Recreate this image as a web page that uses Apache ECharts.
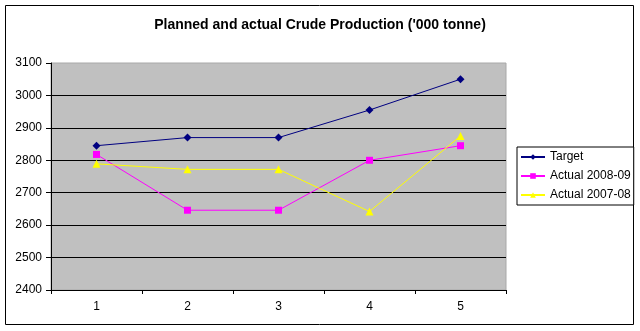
<!DOCTYPE html>
<html>
<head>
<meta charset="utf-8">
<script src="https://cdn.jsdelivr.net/npm/echarts@6/dist/echarts.min.js"></script>
<style>
html,body{margin:0;padding:0;background:#fff;}
#c{width:640px;height:331px;}
</style>
</head>
<body>
<div id="c"></div>
<script>
var categories = ['1', '2', '3', '4', '5'];
var target = [2845, 2870, 2870, 2955, 3050];
var actual0809 = [2818, 2646, 2646, 2800, 2845];
var actual0708 = [2789, 2772, 2772, 2642, 2875];
var seriesNames = ['Target', 'Actual 2008-09', 'Actual 2007-08'];
var yMin = 2400, yMax = 3100, yStep = 100;

var FONT = '"Liberation Sans", Arial, sans-serif';
var chart = echarts.init(document.getElementById('c'), null, {renderer: 'canvas'});

var gridColors = [];
for (var v = yMin; v <= yMax; v += yStep) gridColors.push(v === yMax ? 'rgba(0,0,0,0)' : '#000000');

chart.setOption({
  animation: false,
  backgroundColor: '#ffffff',
  title: {
    text: "Planned and actual Crude Production ('000 tonne)",
    left: 'center',
    top: 13,
    textStyle: {fontFamily: FONT, fontSize: 14, fontWeight: 'bold', color: '#000'}
  },
  graphic: [{
    type: 'rect',
    shape: {x: 5.5, y: 5.5, width: 628, height: 319},
    style: {fill: 'none', stroke: '#000', lineWidth: 1},
    silent: true,
    z: -1
  }],
  legend: {
    orient: 'vertical',
    left: 517,
    top: 147,
    padding: [4, 3, 4, 3],
    itemGap: 7,
    itemWidth: 24,
    itemHeight: 7,
    borderColor: '#000',
    borderWidth: 1,
    backgroundColor: '#fff',
    textStyle: {fontFamily: FONT, fontSize: 12, color: '#000'},
    data: seriesNames
  },
  grid: {
    left: 51, right: 134, top: 63, bottom: 41,
    show: true, backgroundColor: '#C0C0C0', borderWidth: 1, borderColor: '#A8A8A8'
  },
  xAxis: {
    type: 'category',
    data: categories,
    boundaryGap: true,
    axisLine: {lineStyle: {color: '#000', width: 1}},
    axisTick: {show: true, length: 4, lineStyle: {color: '#000'}},
    axisLabel: {fontFamily: FONT, fontSize: 12, color: '#000', margin: 11},
    splitLine: {show: false}
  },
  yAxis: {
    type: 'value',
    min: yMin, max: yMax, interval: yStep,
    axisLine: {show: true, lineStyle: {color: '#000', width: 1}},
    axisTick: {show: true, length: 5, lineStyle: {color: '#000'}},
    axisLabel: {fontFamily: FONT, fontSize: 12, color: '#000', margin: 9,
      formatter: function (val) { return String(val); }},
    splitLine: {show: true, lineStyle: {color: gridColors, width: 1}}
  },
  series: [
    {name: seriesNames[0], type: 'line', data: target, symbol: 'diamond', symbolSize: 8,
     lineStyle: {color: '#000080', width: 1}, itemStyle: {color: '#000080'}},
    {name: seriesNames[1], type: 'line', data: actual0809, symbol: 'rect', symbolSize: 7,
     lineStyle: {color: '#FF00FF', width: 1}, itemStyle: {color: '#FF00FF'}},
    {name: seriesNames[2], type: 'line', data: actual0708, symbol: 'triangle', symbolSize: 8,
     lineStyle: {color: '#FFFF00', width: 1}, itemStyle: {color: '#FFFF00'}}
  ]
});
</script>
</body>
</html>
